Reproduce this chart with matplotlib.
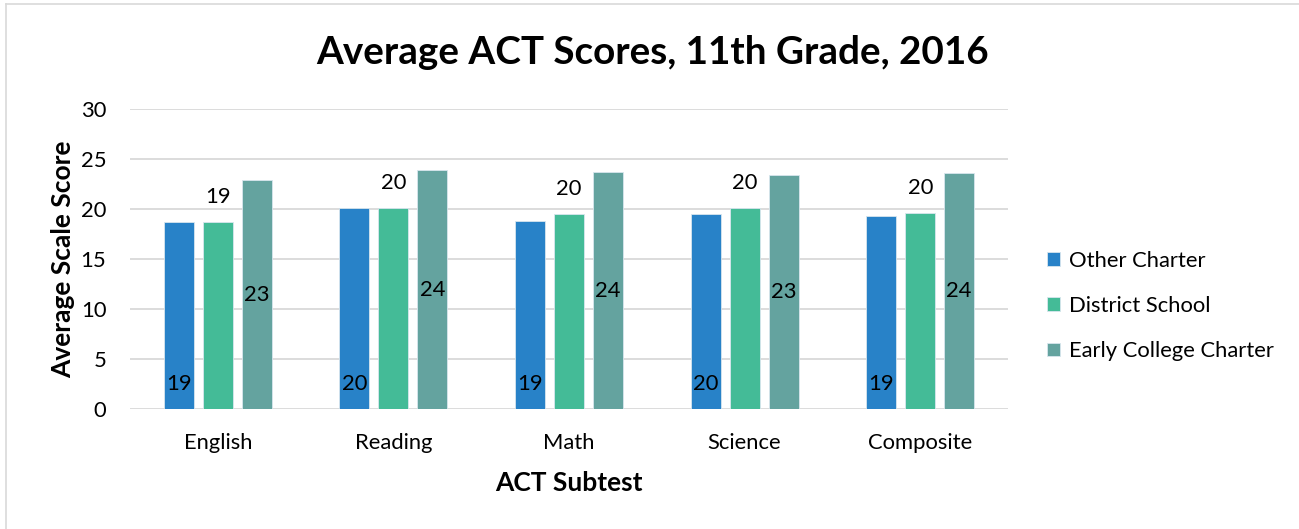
import matplotlib.pyplot as plt
import numpy as np
from matplotlib.lines import Line2D

subtests = ['English', 'Reading', 'Math', 'Science', 'Composite']
series = ['Other Charter', 'District School', 'Early College Charter']
other_charter = [18.7, 20.1, 18.8, 19.5, 19.3]
district_school = [18.7, 20.1, 19.5, 20.1, 19.6]
early_college = [22.9, 23.9, 23.7, 23.4, 23.6]
colors = ['#2882C8', '#44BB97', '#64A39F']

plt.rcParams['font.family'] = ['Lato', 'DejaVu Sans']

fig = plt.figure(figsize=(12.99, 5.29), dpi=100)
ax = fig.add_axes([130/1299, 1 - 409.3/529, 878/1299, 300/529])

x = np.arange(len(subtests))
w = 0.171
step = 0.222
data = [other_charter, district_school, early_college]
for i, (vals, c, name) in enumerate(zip(data, colors, series)):
    ax.bar(x + (i - 1) * step, vals, w, color=c, label=name,
           edgecolor='#D8E6EE', linewidth=0.6, zorder=3)

# data labels (Excel-style positions)
fs = 15.8
for xi, v in zip(x, other_charter):
    ax.text(xi - step, 2.5, f'{round(v)}', ha='center', va='center', fontsize=fs, zorder=4)
for xi, v in zip(x, district_school):
    ax.text(xi, v + 2.5, f'{round(v + 0.01)}', ha='center', va='center', fontsize=fs, zorder=4)
for xi, v in zip(x, early_college):
    ax.text(xi + step, v / 2, f'{round(v)}', ha='center', va='center', fontsize=fs, zorder=4)

ax.set_xlim(-0.5, 4.5)
ax.set_ylim(0, 30)
ax.set_yticks(range(0, 31, 5))
ax.set_xticks(x)
ax.set_xticklabels(subtests)
ax.tick_params(axis='both', length=0, labelsize=fs)
ax.tick_params(axis='y', pad=17)
ax.tick_params(axis='x', pad=17)
ax.grid(axis='y', color='#D9D9D9', linewidth=1.3, zorder=0)
for s in ax.spines.values():
    s.set_visible(False)

ax.set_xlabel('ACT Subtest', fontsize=19, fontweight='bold', labelpad=13)
ax.set_ylabel('Average Scale Score', fontsize=19, fontweight='bold', labelpad=4)
fig.text(653/1299, 1 - 52/529, 'Average ACT Scores, 11th Grade, 2016',
         ha='center', va='center', fontsize=27.8, fontweight='bold')

ax.legend(loc='center left', bbox_to_anchor=(1027/1299, 1 - 306/529),
          bbox_transform=fig.transFigure, frameon=False, fontsize=fs,
          handlelength=0.6, handleheight=0.6, handletextpad=0.4,
          labelspacing=1.15)

# light chart border (left and top visible)
fig.add_artist(Line2D([6/1299, 6/1299], [0, 1 - 4/529], color='#D9D9D9', lw=1.2,
                      transform=fig.transFigure))
fig.add_artist(Line2D([6/1299, 1], [1 - 4/529, 1 - 4/529], color='#D9D9D9', lw=1.2,
                      transform=fig.transFigure))

fig.savefig('out.png', dpi=100)
